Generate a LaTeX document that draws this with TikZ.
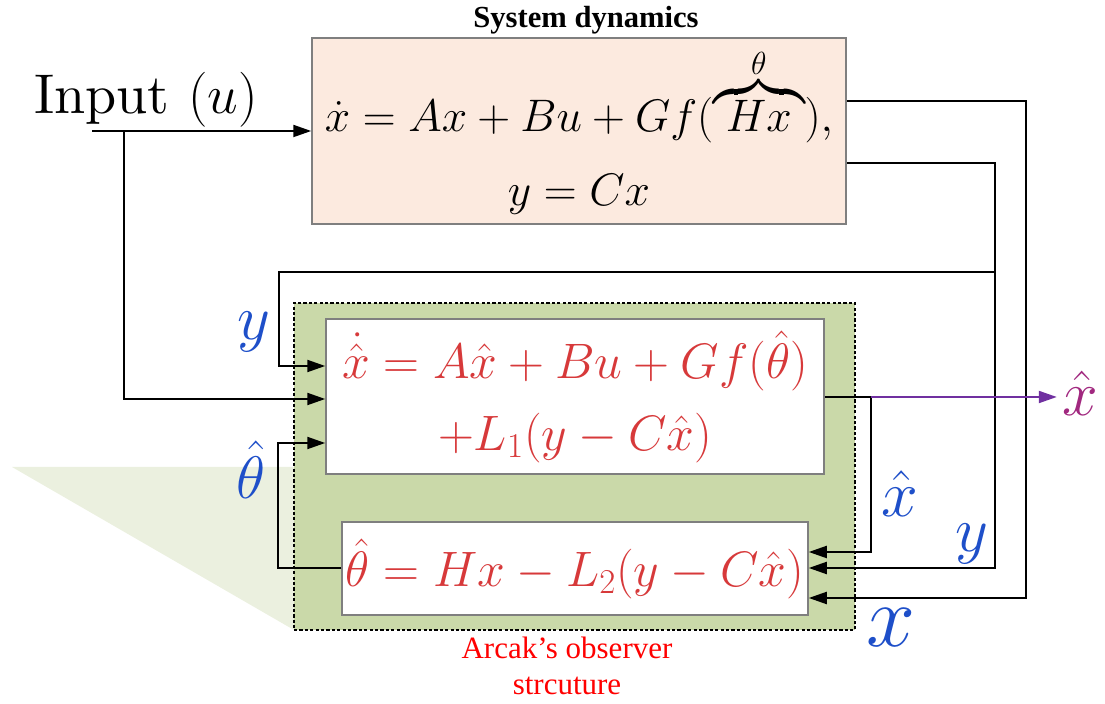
\documentclass[tikz,border=0pt]{standalone}
\usepackage{fix-cm}
\usepackage{amsmath,amssymb}
\usepackage{fontspec}
\newfontfamily\timesfont{Liberation Serif}
\font\inputfont=cmr10 at 28pt
\usetikzlibrary{arrows.meta,calc}
\definecolor{PeachFill}{HTML}{FCEADF}
\definecolor{ObsGreen}{HTML}{CAD9A9}
\definecolor{ShadowGreen}{HTML}{EBF0DF}
\definecolor{BoxGray}{HTML}{7F7F7F}
\definecolor{EqRed}{HTML}{D7393A}
\definecolor{SigBlue}{HTML}{1E4FC9}
\definecolor{OutPurple}{HTML}{7030A0}
\definecolor{OutMagenta}{HTML}{A1287F}

\begin{document}
\begin{tikzpicture}[x=0.5pt,y=-0.5pt,
    wire/.style={line width=1pt},
    conn/.style={line width=1pt,-{Triangle[length=9pt,width=6pt]}},
    eqbox/.style={draw=BoxGray,line width=0.75pt,fill=white,inner sep=0pt,align=center,text=EqRed,font=\fontsize{24.9}{36}\selectfont},
    sig/.style={text=SigBlue,inner sep=0pt}]
  \useasboundingbox (0,0) rectangle (1105,704);
  \fill[ShadowGreen] (12,467) -- (294,467) -- (294,630) -- cycle;
  \node[anchor=base,inner sep=0pt,font=\timesfont\bfseries\fontsize{15.3}{18}\selectfont] (title) at (586,28) {System dynamics};
  \node[draw=BoxGray,fill=PeachFill,line width=0.75pt,minimum width=267pt,minimum height=93pt,inner sep=0pt,align=center,font=\fontsize{22.8}{37}\selectfont] (plant) at (579,131)
    {$\dot{x} = Ax + Bu + Gf(\overbrace{\;Hx\;}^{\theta}),$\\ $y = Cx$};
  \node[draw=black,dash pattern=on 1.6pt off 1.1pt,line width=0.8pt,fill=ObsGreen,minimum width=280.5pt,minimum height=163.5pt,inner sep=0pt] (obs) at (574.5,466.5) {};
  \node[eqbox,minimum width=249pt,minimum height=77.5pt] (est) at (575,396.5)
    {$\dot{\hat{x}} = A\hat{x} + Bu + Gf(\hat{\theta})$\\ $+L_1(y - C\hat{x})$};
  \node[eqbox,minimum width=233pt,minimum height=46.5pt] (par) at (575,568.5)
    {$\hat{\theta} = Hx - L_2(y - C\hat{x})$};
  \node[anchor=base west,inner sep=0pt,font=\fontsize{27.5}{30}\selectfont] (inp) at (34,114) {{\inputfont Input }$(u)$};
  \node[text=red,anchor=north,align=center,inner sep=0pt,font=\timesfont\fontsize{15.5}{18}\selectfont] (cap) at (567,637) {Arcak’s observer\\strcuture};

  \coordinate (u0) at (92,131);
  \coordinate (ub) at (124,131);
  \coordinate (xturn) at (1026,598);
  \coordinate (yturn) at (995,568);
  \coordinate (yb) at (995,272);
  \coordinate (yl) at (279,272);
  \coordinate (xh) at (871,397);
  \coordinate (xhd) at (871,552);
  \draw[conn] (u0) -- (plant.west |- u0);
  \draw[conn] (ub) |- ($(est.west)+(0,2.5)$);
  \draw[conn] ($(plant.east)+(0,-30)$) -| (xturn) -- (par.east |- xturn);
  \draw[conn] ($(plant.east)+(0,32)$) -| (yturn) -- (par.east |- yturn);
  \draw[conn] (yb) -- (yl) |- ($(est.west)+(0,-30.5)$);
  \draw[conn] (par.west) -| ($(est.west)+(-47,46.5)$) -- ($(est.west)+(0,46.5)$);
  \draw[wire] (est.east |- xh) -- (xh);
  \draw[conn] (xh) -- (xhd) -- (par.east |- xhd);

  \node[sig,font=\fontsize{32}{32}\selectfont] (ylab) at (254,332) {$y$};
  \node[sig,font=\fontsize{30}{30}\selectfont] (thlab) at (251,470) {$\hat{\theta}$};
  \node[sig,font=\fontsize{33}{33}\selectfont] (xhlab) at (900,494) {$\hat{x}$};
  \node[sig,font=\fontsize{32}{32}\selectfont] (yrlab) at (972,544) {$y$};
  \node[sig,font=\fontsize{44}{44}\selectfont] (xlab) at (891,628) {$x$};
  \node[text=OutMagenta,inner sep=0pt,font=\fontsize{32}{32}\selectfont] (xout) at (1080,393) {$\hat{x}$};
  \draw[conn,OutPurple] (xh) -- ([xshift=-2.5pt]xh -| xout.west);
\end{tikzpicture}
\end{document}
